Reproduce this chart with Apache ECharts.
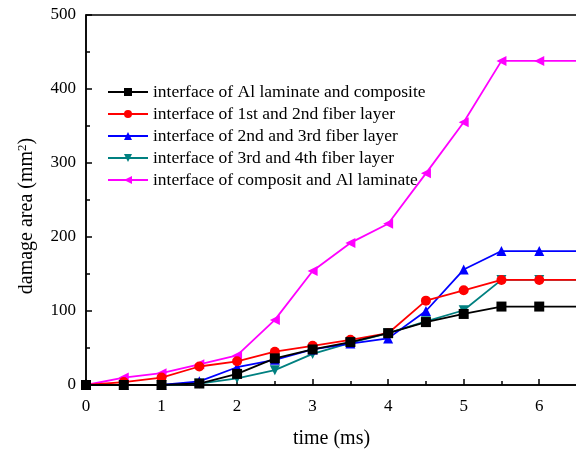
<!DOCTYPE html>
<html><head><meta charset="utf-8">
<script src="https://cdn.jsdelivr.net/npm/echarts@6/dist/echarts.min.js"></script>
<style>html,body{margin:0;padding:0;background:#fff}#c{width:576px;height:450px}</style>
</head><body><div id="c"></div>
<script>
const times = [0, 0.5, 1, 1.5, 2, 2.5, 3, 3.5, 4, 4.5, 5, 5.5, 6, 7];
const seriesNames = [
  'interface of Al laminate and composite',
  'interface of 1st and 2nd fiber layer',
  'interface of 2nd and 3rd fiber layer',
  'interface of 3rd and 4th fiber layer',
  'interface of composit and Al laminate'
];
const alComposite = [0, 0, 0, 2, 15, 36, 48, 58, 70, 85, 96, 106, 106, 106];
const fiber12 =     [0, 4, 10, 25, 32, 45, 53, 61, 70, 114, 128, 142, 142, 142];
const fiber23 =     [0, 0, 0, 5, 24, 34, 48, 56, 63, 100, 156, 181, 181, 181];
const fiber34 =     [0, 0, 0, 2, 9, 20, 42, 57, 70, 86, 101, 142, 142, 142];
const compositeAl = [0, 10, 16, 28, 40, 88, 154, 192, 218, 286, 355, 438, 438, 438];
const yTicks = [0, 100, 200, 300, 400, 500];
const xTicks = [0, 1, 2, 3, 4, 5, 6];

const colors = ['#000000', '#ff0000', '#0000ff', '#008080', '#ff00ff'];
const symbols = ['rect', 'circle', 'triangle', 'path://M0,0 L10,0 L5,10 Z', 'path://M0,5 L10,0 L10,10 Z'];
const values = [alComposite, fiber12, fiber23, fiber34, compositeAl];
const font = '"Liberation Serif", "Times New Roman", serif';

const chart = echarts.init(document.getElementById('c'), null, {renderer: 'canvas'});
chart.setOption({
  animation: false,
  backgroundColor: '#fff',
  textStyle: {fontFamily: font},
  grid: {left: 86, top: 15, bottom: 65, right: -1, outerBoundsMode: 'none', containLabel: false,
    show: true, borderColor: '#000', borderWidth: 1.5, backgroundColor: 'transparent'},
  legend: {
    orient: 'vertical', left: 107, top: 82, padding: 0,
    itemWidth: 40, itemHeight: 10, itemGap: 2,
    textStyle: {fontFamily: font, fontSize: 17.5, lineHeight: 20, color: '#000'},
    data: seriesNames
  },
  xAxis: {
    type: 'value', min: 0, max: 6.5, interval: 1,
    name: 'time (ms)', nameLocation: 'middle', nameGap: 44,
    nameTextStyle: {fontFamily: font, fontSize: 20, color: '#000'},
    axisLine: {lineStyle: {color: '#000', width: 1.5}},
    axisTick: {inside: true, length: 6, lineStyle: {color: '#000', width: 1.5}},
    minorTick: {show: true, splitNumber: 2, length: 4, lineStyle: {color: '#000', width: 1.5}},
    axisLabel: {fontFamily: font, fontSize: 17, color: '#000', margin: 13, showMaxLabel: false,
      formatter: v => xTicks.includes(v) ? String(v) : ''},
    splitLine: {show: false}
  },
  yAxis: {
    type: 'value', min: 0, max: 500, interval: 100,
    name: '{a|damage area (mm}{s|2}{a|)}', nameLocation: 'middle', nameGap: 48,
    nameTextStyle: {fontFamily: font, fontSize: 20, color: '#000', padding: [0, 32, 0, 0],
      rich: {a: {fontFamily: font, fontSize: 20, color: '#000'}, s: {fontFamily: font, fontSize: 13, color: '#000', verticalAlign: 'top', padding: [0, 0, 9, 0]}}},
    axisLine: {lineStyle: {color: '#000', width: 1.5}},
    axisTick: {inside: true, length: 6, lineStyle: {color: '#000', width: 1.5}},
    minorTick: {show: true, splitNumber: 2, length: 4, lineStyle: {color: '#000', width: 1.5}},
    axisLabel: {fontFamily: font, fontSize: 17, color: '#000', margin: 10,
      formatter: v => yTicks.includes(v) ? String(v) : ''},
    splitLine: {show: false}
  },
  series: seriesNames.map((name, i) => ({
    name, type: 'line',
    data: times.map((t, j) => [t, values[i][j]]),
    symbol: symbols[i], symbolSize: 10, showAllSymbol: true, clip: true,
    lineStyle: {color: colors[i], width: 1.8},
    itemStyle: {color: colors[i]},
    z: 10 - i
  }))
});
</script></body></html>
